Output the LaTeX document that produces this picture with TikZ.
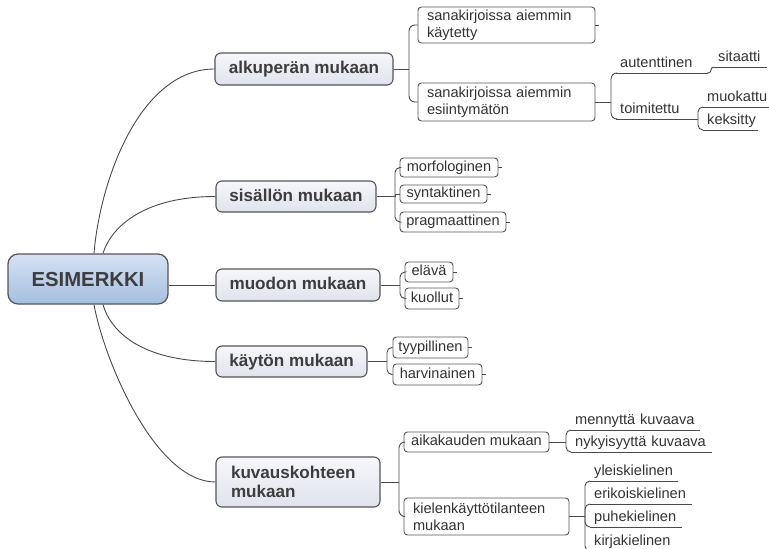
\documentclass[tikz,border=0pt]{standalone}
\usepackage{fontspec}
\setmainfont{Liberation Sans}
\usetikzlibrary{calc,backgrounds}
\definecolor{linec}{HTML}{4A4A4A}
\definecolor{boxb}{HTML}{555555}
\definecolor{mainTop}{HTML}{F6F7FA}
\definecolor{mainBot}{HTML}{E0E3EC}
\definecolor{rootTop}{HTML}{D5E2F3}
\definecolor{rootBot}{HTML}{A5BEE0}
\definecolor{txt}{HTML}{333333}
\definecolor{mtxt}{HTML}{3D3D3D}
\begin{document}
\begin{tikzpicture}[x=1pt,y=-1pt,
 conn/.style={draw=linec, line width=0.9pt},
 brace/.style={conn, rounded corners=6pt},
 rootbox/.style={draw=boxb, line width=1.2pt, rounded corners=10pt, top color=rootTop, bottom color=rootBot, font=\bfseries\fontsize{20.3}{24}\selectfont, text=mtxt, inner sep=0pt, text height=14.5pt, text depth=0pt},
 mainbase/.style={draw=boxb, line width=1.1pt, rounded corners=6pt, top color=mainTop, bottom color=mainBot, font=\bfseries\fontsize{17.1}{19}\selectfont, text=mtxt, inner sep=0pt},
 mainbox/.style={mainbase, text height=12.5pt, text depth=3.5pt},
 leafbox/.style={draw=boxb, line width=0.9pt, rounded corners=3.5pt, fill=white, font=\fontsize{14.6}{16.8}\selectfont, text=txt, inner sep=0pt},
 leafone/.style={leafbox, text height=10.7pt, text depth=3pt},
 ultopic/.style={inner xsep=4pt, inner ysep=2pt, anchor=south west, align=left, font=\fontsize{14.6}{16.8}\selectfont, text=txt, text height=10.7pt, text depth=3pt}
]
\useasboundingbox (0,0) rectangle (769,549);

% root and main branches
\node[rootbox, minimum width=160, minimum height=50] (root) at (88,279) {ESIMERKKI};
\node[mainbox, minimum width=178, minimum height=32] (alk) at (304,69) {alkuperän mukaan};
\node[mainbox, minimum width=160, minimum height=31] (sis) at (296,196.5) {sisällön mukaan};
\node[mainbox, minimum width=164, minimum height=32] (muo) at (298,285) {muodon mukaan};
\node[mainbox, minimum width=151, minimum height=31] (kay) at (291.5,361.5) {käytön mukaan};
\node[mainbase, align=left, text width=134, minimum width=164, minimum height=50] (kuv) at (298,482) {kuvauskohteen\\mukaan};

% boxed leaves
\node[leafbox, align=left, text width=159, minimum width=177, minimum height=36] (kayt) at (506.5,25) {sanakirjoissa aiemmin\\käytetty};
\node[leafbox, align=left, text width=159, minimum width=177, minimum height=38] (esii) at (506.5,102) {sanakirjoissa aiemmin\\esiintymätön};
\node[leafone, minimum width=98, minimum height=19] (morf) at (449,167.5) {morfologinen};
\node[leafone, minimum width=87, minimum height=18] (synt) at (443.5,194) {syntaktinen};
\node[leafone, minimum width=106, minimum height=20] (prag) at (453,222) {pragmaattinen};
\node[leafone, minimum width=48, minimum height=20] (elav) at (429,272) {elävä};
\node[leafone, minimum width=54, minimum height=21] (kuol) at (432,298.5) {kuollut};
\node[leafone, minimum width=75, minimum height=21] (tyyp) at (430.5,347.5) {tyypillinen};
\node[leafone, minimum width=89, minimum height=21] (harv) at (437.5,374.5) {harvinainen};
\node[leafone, minimum width=145, minimum height=20] (aik) at (476.5,442) {aikakauden mukaan};
\node[leafbox, align=left, text width=147, minimum width=165, minimum height=37] (kiel) at (486.5,516.5) {kielenkäyttötilanteen\\mukaan};

% underlined topics
\node[ultopic, text width=84] (auth) at (616,73) {autenttinen};
\node[ultopic, text width=71] (toim) at (616,119) {toimitettu};
\node[ultopic, text width=45] (sit) at (714,67) {sitaatti};
\node[ultopic, text width=58] (muok) at (703,107) {muokattu};
\node[ultopic, text width=47] (keks) at (703,130) {keksitty};
\node[ultopic, text width=121] (menn) at (571,430) {mennyttä kuvaava};
\node[ultopic, text width=133] (nyky) at (571,452) {nykyisyyttä kuvaava};
\node[ultopic, text width=80] (ylei) at (590,481) {yleiskielinen};
\node[ultopic, text width=94] (erik) at (590,504) {erikoiskielinen};
\node[ultopic, text width=84] (puhe) at (590,527) {puhekielinen};
\node[ultopic, text width=78] (kirj) at (590,551) {kirjakielinen};

% junction coordinates
\coordinate (alkJ) at (409,69);
\coordinate (sisJ) at (395,196.5);
\coordinate (muoJ) at (400,285);
\coordinate (kayJ) at (387,361.5);
\coordinate (kuvJ) at (399,482);
\coordinate (esiJ) at (611,102);
\coordinate (authJ) at (711,73);
\coordinate (toimJ) at (698,119);
\coordinate (aikJ) at (566,442);
\coordinate (kielJ) at (585,516.5);

\begin{pgfonlayer}{background}
% root connectors
\draw[conn] ($(root.north)+(6,0)$) .. controls (100,180) and (140,69) .. (alk.west);
\draw[conn] ($(root.north)+(15,0)$) .. controls (110,230) and (140,196.5) .. (sis.west);
\draw[conn] (root.east |- muo.west) -- (muo.west);
\draw[conn] ($(root.south)+(15,0)$) .. controls (110,330) and (140,361.5) .. (kay.west);
\draw[conn] ($(root.south)+(6,0)$) .. controls (104,360) and (155,482) .. (kuv.west);
\end{pgfonlayer}

% alkuperän
\draw[conn] (alk.east) -- (alkJ);
\draw[brace] (alkJ) |- (kayt.west);
\draw[brace] (alkJ) |- (esii.west);
\draw[conn] (kayt.east) -- ++(4,0);
\draw[conn] (esii.east) -- (esiJ);
\draw[brace] (esiJ) |- (auth.south west);
\draw[brace] (esiJ) |- (toim.south west);
\draw[conn] (auth.south west) -- (auth.south east);
\draw[conn] (toim.south west) -- (toim.south east);
\draw[conn, rounded corners=3pt] (auth.south east) -- (authJ) |- (sit.south west);
\draw[conn] (sit.south west) -- (sit.south east);
\draw[conn] (toim.south east) -- (toimJ);
\draw[conn, rounded corners=5pt] (toimJ) |- (muok.south west);
\draw[conn, rounded corners=5pt] (toimJ) |- (keks.south west);
\draw[conn] (muok.south west) -- (muok.south east);
\draw[conn] (keks.south west) -- (keks.south east);

% sisällön
\draw[conn] (sis.east) -- (sisJ);
\draw[conn, rounded corners=5pt] (sisJ) |- (morf.west);
\draw[conn] (sisJ) |- (synt.west);
\draw[conn, rounded corners=5pt] (sisJ) |- (prag.west);
\draw[conn] (morf.east) -- ++(4,0);
\draw[conn] (synt.east) -- ++(4,0);
\draw[conn] (prag.east) -- ++(4,0);

% muodon
\draw[conn] (muo.east) -- (muoJ);
\draw[conn, rounded corners=5pt] (muoJ) |- (elav.west);
\draw[conn, rounded corners=5pt] (muoJ) |- (kuol.west);
\draw[conn] (elav.east) -- ++(4,0);
\draw[conn] (kuol.east) -- ++(4,0);

% käytön
\draw[conn] (kay.east) -- (kayJ);
\draw[conn, rounded corners=5pt] (kayJ) |- (tyyp.west);
\draw[conn, rounded corners=5pt] (kayJ) |- (harv.west);
\draw[conn] (tyyp.east) -- ++(4,0);
\draw[conn] (harv.east) -- ++(4,0);

% kuvauskohteen
\draw[conn] (kuv.east) -- (kuvJ);
\draw[brace] (kuvJ) |- (aik.west);
\draw[brace] (kuvJ) |- (kiel.west);
\draw[conn] (aik.east) -- (aikJ);
\draw[conn, rounded corners=5pt] (aikJ) |- (menn.south west);
\draw[conn, rounded corners=5pt] (aikJ) |- (nyky.south west);
\draw[conn] (menn.south west) -- (menn.south east);
\draw[conn] (nyky.south west) -- (nyky.south east);
\draw[conn] (kiel.east) -- (kielJ);
\draw[conn, rounded corners=5pt] (kielJ) |- (ylei.south west);
\draw[conn, rounded corners=5pt] (kielJ) |- (erik.south west);
\draw[conn, rounded corners=5pt] (kielJ) |- (puhe.south west);
\draw[conn, rounded corners=5pt] (kielJ) |- (kirj.south west);
\draw[conn] (ylei.south west) -- (ylei.south east);
\draw[conn] (erik.south west) -- (erik.south east);
\draw[conn] (puhe.south west) -- (puhe.south east);
\draw[conn] (kirj.south west) -- (kirj.south east);
\end{tikzpicture}
\end{document}
